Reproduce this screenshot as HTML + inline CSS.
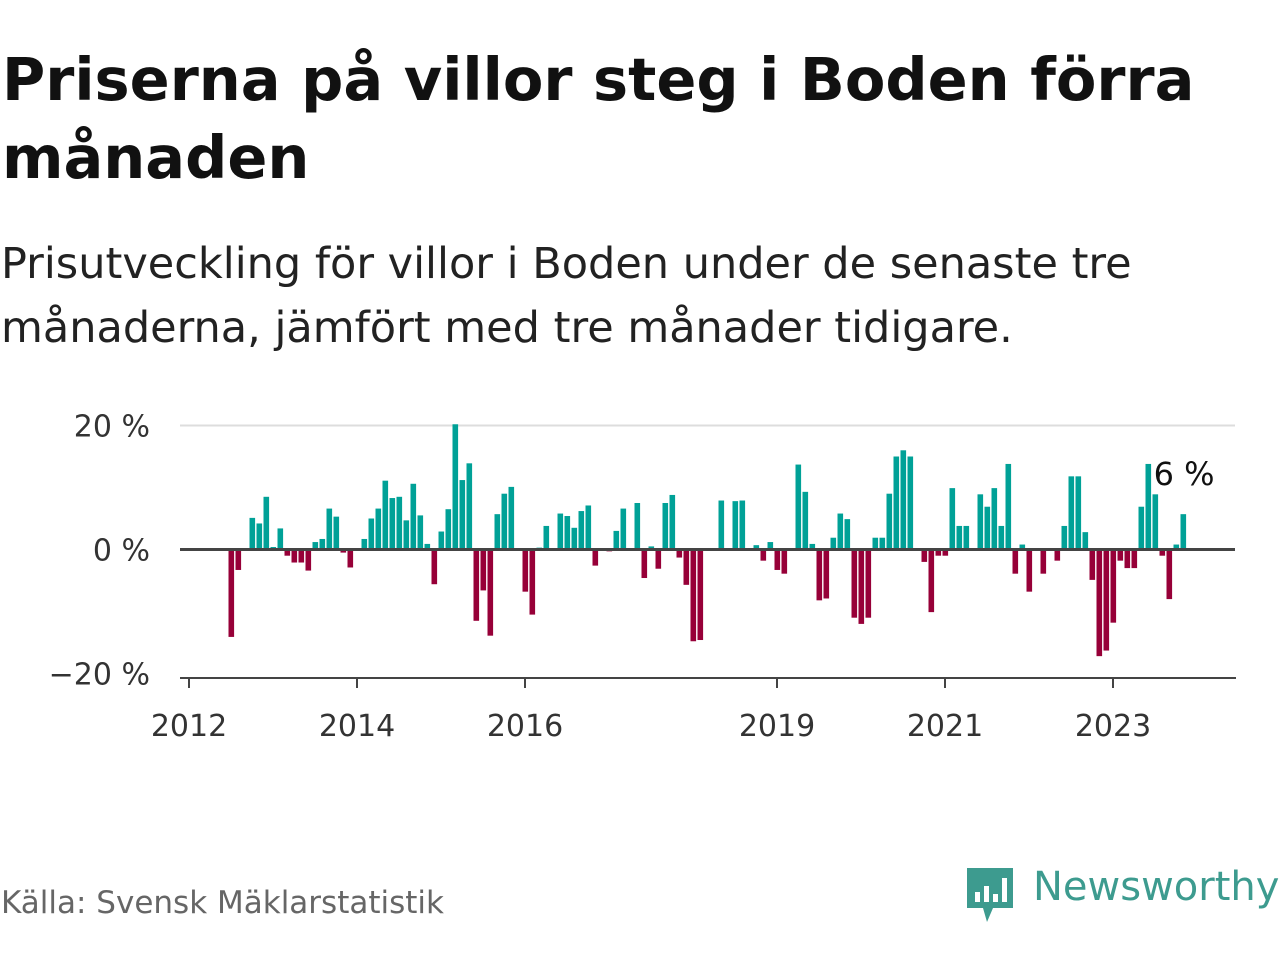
<!DOCTYPE html>
<html><head><meta charset="utf-8"><style>
body{margin:0;width:1280px;height:960px;background:#fff;font-family:"DejaVu Sans","Liberation Sans",sans-serif;overflow:hidden;position:relative}
h1{position:absolute;left:2px;top:41px;margin:0;font-size:59px;line-height:78px;font-weight:bold;color:#111;white-space:nowrap}
.sub{position:absolute;left:1px;top:232px;font-size:43px;line-height:64px;color:#222;white-space:nowrap}
.src{position:absolute;left:1px;top:885px;font-size:31px;color:#666}
</style></head><body>
<h1>Priserna på villor steg i Boden förra<br>månaden</h1>
<div class="sub">Prisutveckling för villor i Boden under de senaste tre<br>månaderna, jämfört med tre månader tidigare.</div>
<svg id="chart" width="1280" height="960" style="position:absolute;left:0;top:0"></svg>
<div class="src">Källa: Svensk Mäklarstatistik</div>
<div style="position:absolute;left:965px;top:864px;">
<svg width="52" height="62"><path d="M2 4 h46 v40 h-20 l-6 14 l-4 -14 h-16z" fill="#3d9b8f"/><rect x="10" y="28" width="5" height="10" fill="#fff"/><rect x="19" y="22" width="5" height="16" fill="#fff"/><rect x="28" y="30" width="5" height="8" fill="#fff"/><rect x="37" y="14" width="5" height="24" fill="#fff"/></svg>
<span style="position:absolute;left:68px;top:0;font-size:40px;color:#3d9b8f;white-space:nowrap">Newsworthy</span></div>
<script>
const values=[null,null,null,null,null,null,-14.1,-3.3,null,5.1,4.2,8.5,0.4,3.4,-1.0,-2.1,-2.1,-3.4,1.2,1.7,6.6,5.3,-0.5,-2.9,null,1.7,5.0,6.6,11.1,8.3,8.5,4.7,10.6,5.5,0.9,-5.6,2.9,6.5,20.2,11.2,13.9,-11.5,-6.6,-13.9,5.7,9.0,10.1,null,-6.8,-10.5,0.3,3.8,null,5.8,5.4,3.5,6.2,7.1,-2.6,null,-0.3,3.0,6.6,null,7.5,-4.6,0.5,-3.1,7.5,8.8,-1.3,-5.7,-14.8,-14.6,null,null,7.9,null,7.8,7.9,null,0.7,-1.8,1.2,-3.3,-3.9,null,13.7,9.3,0.9,-8.2,-7.9,1.9,5.8,4.9,-11.0,-12.0,-11.0,1.9,1.9,9.0,15.0,16.0,15.0,null,-2.0,-10.1,-1.0,-1.0,9.9,3.8,3.8,null,8.9,6.9,9.9,3.8,13.8,-3.9,0.8,-6.8,null,-3.9,null,-1.8,3.8,11.8,11.8,2.8,-4.9,-17.2,-16.3,-11.8,-1.8,-3.0,-3.0,6.9,13.8,8.9,-1.0,-8.0,0.8,5.7];
const yTicks=[20,0,-20];
const yTickLabels=["20 %","0 %","−20 %"];
const xTickIdx=[0,24,48,84,108,132];
const xTickLabels=["2012","2014","2016","2019","2021","2023"];
const lastLabel="6 %";
const NS="http://www.w3.org/2000/svg";
const FF='DejaVu Sans, Liberation Sans, sans-serif';
const svg=document.getElementById('chart');
const x=i=>189+7*i+0.5;
const y=v=>549.5-v*6.2;
function mk(t,a){const e=document.createElementNS(NS,t);for(const k in a)e.setAttribute(k,a[k]);svg.appendChild(e);return e;}
let g=mk('line',{x1:180,x2:1235,y1:y(20),y2:y(20),stroke:'#ddd','stroke-width':2});


yTicks.forEach((v,k)=>{const t=mk('text',{x:150,y:y(v)+11,'text-anchor':'end','font-size':30,fill:'#333','font-family':FF});t.textContent=yTickLabels[k];

});
values.forEach((v,i)=>{if(v===null)return;const r=mk('rect',{x:x(i)-3,width:5.6,y:v>0?y(v):y(0),height:Math.abs(y(v)-y(0)),fill:v>0?'#00a197':'#970038'});

});
let z=mk('line',{x1:180,x2:1235,y1:y(0),y2:y(0),stroke:'#444','stroke-width':3});


let ax=mk('line',{x1:180,x2:1236,y1:678,y2:678,stroke:'#444','stroke-width':2});


xTickIdx.forEach((idx,k)=>{const tx=189+7*idx;let l=mk('line',{x1:tx,x2:tx,y1:678,y2:688,stroke:'#444','stroke-width':2});


const t=mk('text',{x:tx,y:736,'text-anchor':'middle','font-size':30,fill:'#333','font-family':FF});t.textContent=xTickLabels[k];

});
const li=values.length-1;
const lt=mk('text',{x:x(li)+31,y:y(values[li])-29,'text-anchor':'end','font-size':32,fill:'#111',stroke:'#fff','stroke-width':5,'paint-order':'stroke','font-family':FF});
lt.textContent=lastLabel;


</script>
</body></html>
